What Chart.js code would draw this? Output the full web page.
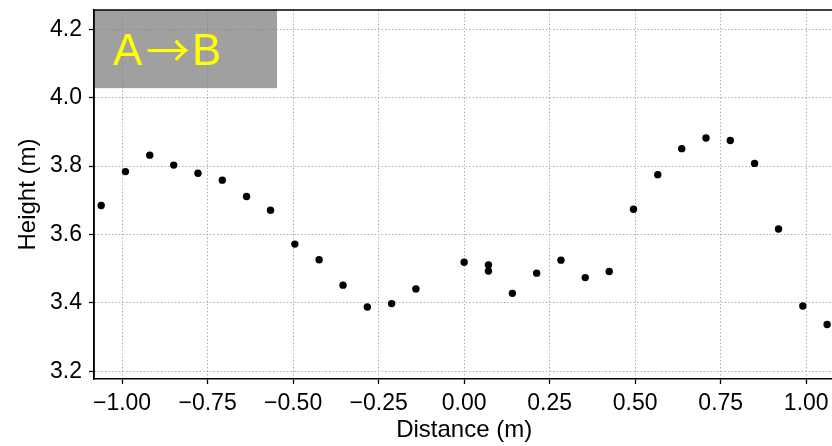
<!DOCTYPE html>
<html>
<head>
<meta charset="utf-8">
<script src="https://cdn.jsdelivr.net/npm/chart.js@4"></script>
<style>
  html, body { margin: 0; padding: 0; background: #fff; overflow: hidden; }
  #wrap { width: 838px; height: 446px; }
</style>
</head>
<body>
<div id="wrap"><canvas id="c" width="838" height="446"></canvas></div>
<script>
// ---- data ----
const distance = [-1.061, -0.990, -0.919, -0.849, -0.778, -0.707, -0.636, -0.566,
                  -0.495, -0.424, -0.354, -0.283, -0.212, -0.141,
                  0.000, 0.071, 0.071, 0.141, 0.212, 0.283, 0.354, 0.424, 0.495,
                  0.566, 0.636, 0.707, 0.778, 0.849, 0.919, 0.990, 1.061];
const height = [3.685, 3.784, 3.832, 3.803, 3.779, 3.759, 3.711, 3.671,
                3.572, 3.526, 3.452, 3.388, 3.398, 3.441,
                3.519, 3.511, 3.493, 3.428, 3.487, 3.525, 3.474, 3.492, 3.674,
                3.775, 3.851, 3.882, 3.875, 3.808, 3.616, 3.391, 3.337];
const xTicks = [-1.00, -0.75, -0.50, -0.25, 0.00, 0.25, 0.50, 0.75, 1.00];
const yTicks = [3.2, 3.4, 3.6, 3.8, 4.0, 4.2];
const xRange = [-1.082, 1.082];
const yRange = [3.1775, 4.2565];
const labelParts = ['A', '\u2192', 'B'];
const labelBox = { xMax: -0.547, yMin: 4.028 };   // data coords of the shaded label box

const FONT = '"Liberation Sans", Arial, Helvetica, sans-serif';

const labelPlugin = {
  id: 'labelBox',
  beforeDatasetsDraw(chart) {
    const { ctx, chartArea, scales } = chart;
    const x0 = chartArea.left, y0 = chartArea.top;
    const x1 = scales.x.getPixelForValue(labelBox.xMax);
    const y1 = scales.y.getPixelForValue(labelBox.yMin);
    ctx.save();
    ctx.fillStyle = 'rgba(128,128,128,0.75)';
    ctx.fillRect(x0, y0, x1 - x0, y1 - y0);
    ctx.fillStyle = '#ffff00';
    ctx.textBaseline = 'alphabetic';
    const base = y0 + 55;
    ctx.font = '44px ' + FONT;
    ctx.textAlign = 'left';
    ctx.fillText(labelParts[0], x0 + 19, base);
    ctx.font = '44px "Noto Sans CJK JP", "DejaVu Sans", sans-serif';
    ctx.textAlign = 'center';
    ctx.fillText(labelParts[1], x0 + 74, base + 2);
    ctx.font = '44px ' + FONT;
    ctx.textAlign = 'left';
    ctx.fillText(labelParts[2], x0 + 98, base);
    ctx.restore();
  },
  afterDraw(chart) {
    const { ctx, chartArea } = chart;
    ctx.save();
    ctx.strokeStyle = '#000';
    ctx.lineWidth = 1.5;
    ctx.beginPath();
    ctx.moveTo(chartArea.left, chartArea.bottom);
    ctx.lineTo(chartArea.left, chartArea.top);
    ctx.lineTo(chartArea.right, chartArea.top);
    ctx.lineTo(chartArea.right, chartArea.bottom);
    ctx.stroke();
    ctx.restore();
  }
};

const fmt = (v, d) => v.toFixed(d).replace('-', '\u2212');

new Chart(document.getElementById('c'), {
  type: 'scatter',
  data: {
    datasets: [{
      data: distance.map((x, i) => ({ x: x, y: height[i] })),
      backgroundColor: '#000',
      borderWidth: 0,
      pointRadius: 3.7,
      pointHoverRadius: 3.7
    }]
  },
  options: {
    responsive: false,
    animation: false,
    events: [],
    layout: { padding: { top: 10, left: 0, right: 0, bottom: 0 } },
    plugins: { legend: { display: false }, tooltip: { enabled: false } },
    scales: {
      x: {
        type: 'linear',
        min: xRange[0], max: xRange[1],
        afterBuildTicks: s => { s.ticks = xTicks.map(v => ({ value: v })); },
        afterFit: s => { s.height = 67; s.paddingLeft = 0; s.paddingRight = 0; },
        grid: {
          color: '#b0b0b0', lineWidth: 1,
          tickColor: '#000', tickLength: 5, tickWidth: 1.3, tickBorderDash: []
        },
        border: { color: '#000', width: 1.5, dash: [1.5, 2] },
        ticks: {
          color: '#000', padding: 6, maxRotation: 0, autoSkip: false,
          font: { family: FONT, size: 23 },
          callback: v => fmt(v, 2)
        },
        title: {
          display: true, text: 'Distance (m)', color: '#000',
          font: { family: FONT, size: 24 }, padding: { top: 0, bottom: 1 }
        }
      },
      y: {
        type: 'linear',
        min: yRange[0], max: yRange[1],
        afterBuildTicks: s => { s.ticks = yTicks.map(v => ({ value: v })); },
        afterFit: s => { s.width = 94; s.paddingTop = 0; s.paddingBottom = 0; },
        grid: {
          color: '#b0b0b0', lineWidth: 1,
          tickColor: '#000', tickLength: 5, tickWidth: 1.3, tickBorderDash: []
        },
        border: { color: '#000', width: 1.5, dash: [1.5, 2] },
        ticks: {
          color: '#000', padding: 7, autoSkip: false,
          font: { family: FONT, size: 23 },
          callback: v => fmt(v, 1)
        },
        title: {
          display: true, text: 'Height (m)', color: '#000',
          font: { family: FONT, size: 24 }, padding: { top: 14, bottom: 0 }
        }
      }
    }
  },
  plugins: [labelPlugin]
});
</script>
</body>
</html>
